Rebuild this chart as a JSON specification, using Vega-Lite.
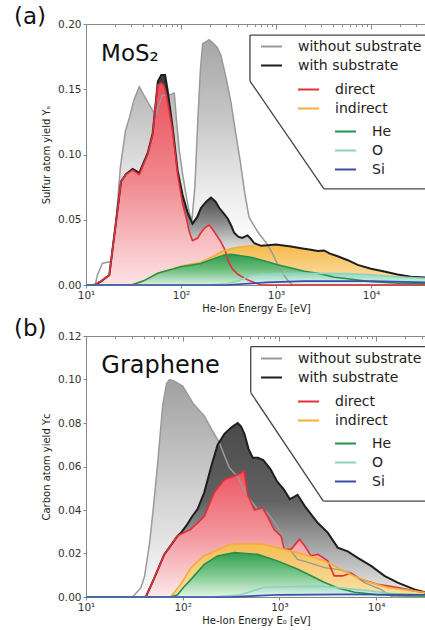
{
"$schema":"https://vega.github.io/schema/vega-lite/v6.json",
"padding":{"left":13,"top":5,"right":0,"bottom":0},
"background":"white",
"config":{
 "view":{"stroke":"#888","strokeWidth":1},
 "font":"DejaVu Sans",
 "axis":{"labelFont":"DejaVu Sans","titleFont":"DejaVu Sans","labelFontSize":10.5,"titleFontSize":10,"titleFontWeight":"normal","labelColor":"#333","titleColor":"#222","domainColor":"#888","tickColor":"#888","grid":false,"labelFlush":false},
 "legend":{"orient":"none","title":null,"labelFont":"DejaVu Sans","labelFontSize":14,"labelColor":"#222","symbolType":"stroke","symbolSize":441,"symbolStrokeWidth":2,"labelOffset":15,"rowPadding":0,"padding":0},
 "title":{"font":"DejaVu Sans","fontWeight":"normal"}
},
"datasets":{
"a":[
{"s":"without substrate","E":10,"y":0},{"s":"without substrate","E":12.5,"y":0},{"s":"without substrate","E":13.2,"y":0.0077},{"s":"without substrate","E":14.9,"y":0.0167},{"s":"without substrate","E":18.3,"y":0.018},{"s":"without substrate","E":20.5,"y":0.045},{"s":"without substrate","E":23,"y":0.09},{"s":"without substrate","E":26,"y":0.118},{"s":"without substrate","E":28.6,"y":0.128},{"s":"without substrate","E":32,"y":0.142},{"s":"without substrate","E":36.4,"y":0.152},{"s":"without substrate","E":41,"y":0.145},{"s":"without substrate","E":46.4,"y":0.138},{"s":"without substrate","E":51,"y":0.133},{"s":"without substrate","E":54.6,"y":0.13},{"s":"without substrate","E":58,"y":0.137},{"s":"without substrate","E":63,"y":0.145},{"s":"without substrate","E":70,"y":0.146},{"s":"without substrate","E":78,"y":0.146},{"s":"without substrate","E":85,"y":0.147},{"s":"without substrate","E":90,"y":0.125},{"s":"without substrate","E":96,"y":0.103},{"s":"without substrate","E":104,"y":0.085},{"s":"without substrate","E":113,"y":0.069},{"s":"without substrate","E":122,"y":0.056},{"s":"without substrate","E":130,"y":0.049},{"s":"without substrate","E":140,"y":0.075},{"s":"without substrate","E":150,"y":0.125},{"s":"without substrate","E":160,"y":0.165},{"s":"without substrate","E":169,"y":0.185},{"s":"without substrate","E":198,"y":0.188},{"s":"without substrate","E":220,"y":0.185},{"s":"without substrate","E":241,"y":0.182},{"s":"without substrate","E":263,"y":0.176},{"s":"without substrate","E":300,"y":0.158},{"s":"without substrate","E":336,"y":0.14},{"s":"without substrate","E":370,"y":0.12},{"s":"without substrate","E":420,"y":0.095},{"s":"without substrate","E":470,"y":0.07},{"s":"without substrate","E":520,"y":0.052},{"s":"without substrate","E":580,"y":0.046},{"s":"without substrate","E":640,"y":0.041},{"s":"without substrate","E":720,"y":0.036},{"s":"without substrate","E":815,"y":0.031},{"s":"without substrate","E":920,"y":0.024},{"s":"without substrate","E":1040,"y":0.016},{"s":"without substrate","E":1200,"y":0.008},{"s":"without substrate","E":1350,"y":0.003},{"s":"without substrate","E":1500,"y":0},{"s":"without substrate","E":37930,"y":0},
{"s":"with substrate","E":10,"y":0},{"s":"with substrate","E":12.5,"y":0},{"s":"with substrate","E":14.5,"y":0.003},{"s":"with substrate","E":17.6,"y":0.0077},{"s":"with substrate","E":20,"y":0.04},{"s":"with substrate","E":23.4,"y":0.0795},{"s":"with substrate","E":26.3,"y":0.085},{"s":"with substrate","E":31,"y":0.089},{"s":"with substrate","E":36.4,"y":0.086},{"s":"with substrate","E":44.6,"y":0.101},{"s":"with substrate","E":50.3,"y":0.116},{"s":"with substrate","E":54.6,"y":0.142},{"s":"with substrate","E":57,"y":0.156},{"s":"with substrate","E":62,"y":0.161},{"s":"with substrate","E":68,"y":0.161},{"s":"with substrate","E":72,"y":0.15},{"s":"with substrate","E":81.6,"y":0.121},{"s":"with substrate","E":92,"y":0.088},{"s":"with substrate","E":104,"y":0.069},{"s":"with substrate","E":118,"y":0.055},{"s":"with substrate","E":132,"y":0.047},{"s":"with substrate","E":148,"y":0.052},{"s":"with substrate","E":162,"y":0.059},{"s":"with substrate","E":185,"y":0.064},{"s":"with substrate","E":207,"y":0.067},{"s":"with substrate","E":230,"y":0.064},{"s":"with substrate","E":253,"y":0.059},{"s":"with substrate","E":280,"y":0.055},{"s":"with substrate","E":310,"y":0.051},{"s":"with substrate","E":340,"y":0.045},{"s":"with substrate","E":363,"y":0.04},{"s":"with substrate","E":400,"y":0.037},{"s":"with substrate","E":440,"y":0.036},{"s":"with substrate","E":502,"y":0.038},{"s":"with substrate","E":550,"y":0.035},{"s":"with substrate","E":590,"y":0.032},{"s":"with substrate","E":700,"y":0.03},{"s":"with substrate","E":820,"y":0.0305},{"s":"with substrate","E":1000,"y":0.031},{"s":"with substrate","E":1440,"y":0.0295},{"s":"with substrate","E":1900,"y":0.028},{"s":"with substrate","E":2330,"y":0.027},{"s":"with substrate","E":2750,"y":0.026},{"s":"with substrate","E":3200,"y":0.0265},{"s":"with substrate","E":3700,"y":0.024},{"s":"with substrate","E":4460,"y":0.022},{"s":"with substrate","E":5700,"y":0.019},{"s":"with substrate","E":7240,"y":0.0154},{"s":"with substrate","E":10000,"y":0.0125},{"s":"with substrate","E":13800,"y":0.0103},{"s":"with substrate","E":19000,"y":0.008},{"s":"with substrate","E":26300,"y":0.0064},{"s":"with substrate","E":37930,"y":0.0058},
{"s":"direct","E":10,"y":0},{"s":"direct","E":12,"y":0},{"s":"direct","E":14.5,"y":0.003},{"s":"direct","E":17.6,"y":0.0077},{"s":"direct","E":20,"y":0.04},{"s":"direct","E":23.4,"y":0.0795},{"s":"direct","E":26.3,"y":0.0846},{"s":"direct","E":31,"y":0.088},{"s":"direct","E":36.4,"y":0.0846},{"s":"direct","E":44.6,"y":0.1},{"s":"direct","E":50.3,"y":0.115},{"s":"direct","E":54.6,"y":0.141},{"s":"direct","E":56.7,"y":0.153},{"s":"direct","E":62,"y":0.155},{"s":"direct","E":66,"y":0.153},{"s":"direct","E":70,"y":0.146},{"s":"direct","E":81.6,"y":0.118},{"s":"direct","E":92,"y":0.085},{"s":"direct","E":104,"y":0.062},{"s":"direct","E":113,"y":0.052},{"s":"direct","E":122,"y":0.041},{"s":"direct","E":132,"y":0.034},{"s":"direct","E":150,"y":0.036},{"s":"direct","E":162,"y":0.04},{"s":"direct","E":180,"y":0.044},{"s":"direct","E":198,"y":0.046},{"s":"direct","E":223,"y":0.041},{"s":"direct","E":263,"y":0.033},{"s":"direct","E":290,"y":0.027},{"s":"direct","E":320,"y":0.017},{"s":"direct","E":350,"y":0.012},{"s":"direct","E":400,"y":0.008},{"s":"direct","E":446,"y":0.006},{"s":"direct","E":500,"y":0.004},{"s":"direct","E":590,"y":0.002},{"s":"direct","E":700,"y":0},{"s":"direct","E":37930,"y":0},
{"s":"indirect","E":10,"y":0},{"s":"indirect","E":30,"y":0},{"s":"indirect","E":40,"y":0.003},{"s":"indirect","E":57,"y":0.009},{"s":"indirect","E":80,"y":0.012},{"s":"indirect","E":100,"y":0.0145},{"s":"indirect","E":162,"y":0.0175},{"s":"indirect","E":220,"y":0.022},{"s":"indirect","E":264,"y":0.0255},{"s":"indirect","E":340,"y":0.028},{"s":"indirect","E":426,"y":0.0293},{"s":"indirect","E":590,"y":0.03},{"s":"indirect","E":700,"y":0.03},{"s":"indirect","E":820,"y":0.0305},{"s":"indirect","E":1000,"y":0.031},{"s":"indirect","E":1440,"y":0.0295},{"s":"indirect","E":1900,"y":0.028},{"s":"indirect","E":2330,"y":0.027},{"s":"indirect","E":2750,"y":0.026},{"s":"indirect","E":3200,"y":0.0265},{"s":"indirect","E":3700,"y":0.024},{"s":"indirect","E":4460,"y":0.022},{"s":"indirect","E":5700,"y":0.019},{"s":"indirect","E":7240,"y":0.0154},{"s":"indirect","E":10000,"y":0.0125},{"s":"indirect","E":13800,"y":0.0103},{"s":"indirect","E":19000,"y":0.008},{"s":"indirect","E":26300,"y":0.0064},{"s":"indirect","E":37930,"y":0.0058},
{"s":"He","E":10,"y":0},{"s":"He","E":30,"y":0},{"s":"He","E":40,"y":0.003},{"s":"He","E":57,"y":0.009},{"s":"He","E":80,"y":0.012},{"s":"He","E":100,"y":0.014},{"s":"He","E":162,"y":0.0165},{"s":"He","E":200,"y":0.019},{"s":"He","E":240,"y":0.021},{"s":"He","E":286,"y":0.023},{"s":"He","E":340,"y":0.0235},{"s":"He","E":426,"y":0.0224},{"s":"He","E":546,"y":0.0212},{"s":"He","E":813,"y":0.0178},{"s":"He","E":1040,"y":0.0155},{"s":"He","E":1560,"y":0.0125},{"s":"He","E":1990,"y":0.0105},{"s":"He","E":2960,"y":0.0085},{"s":"He","E":4110,"y":0.006},{"s":"He","E":5690,"y":0.0048},{"s":"He","E":9220,"y":0.0028},{"s":"He","E":20000,"y":0.0013},{"s":"He","E":37930,"y":0.001},
{"s":"O","E":10,"y":0},{"s":"O","E":200,"y":0},{"s":"O","E":300,"y":0.001},{"s":"O","E":400,"y":0.003},{"s":"O","E":550,"y":0.0075},{"s":"O","E":800,"y":0.0085},{"s":"O","E":1800,"y":0.0089},{"s":"O","E":5700,"y":0.0088},{"s":"O","E":10000,"y":0.0078},{"s":"O","E":20000,"y":0.006},{"s":"O","E":37930,"y":0.005},
{"s":"Si","E":10,"y":0},{"s":"Si","E":300,"y":0},{"s":"Si","E":800,"y":0.002},{"s":"Si","E":2000,"y":0.003},{"s":"Si","E":10000,"y":0.003},{"s":"Si","E":37930,"y":0.002}
],
"b":[
{"s":"without substrate","E":10,"y":0},{"s":"without substrate","E":30,"y":0},{"s":"without substrate","E":31.8,"y":0.001},{"s":"without substrate","E":37,"y":0.0043},{"s":"without substrate","E":40.4,"y":0.0097},{"s":"without substrate","E":45.5,"y":0.025},{"s":"without substrate","E":50,"y":0.042},{"s":"without substrate","E":55,"y":0.061},{"s":"without substrate","E":62,"y":0.088},{"s":"without substrate","E":68,"y":0.098},{"s":"without substrate","E":73,"y":0.1},{"s":"without substrate","E":80,"y":0.0995},{"s":"without substrate","E":100,"y":0.097},{"s":"without substrate","E":128,"y":0.089},{"s":"without substrate","E":167,"y":0.0832},{"s":"without substrate","E":200,"y":0.077},{"s":"without substrate","E":239,"y":0.071},{"s":"without substrate","E":270,"y":0.065},{"s":"without substrate","E":303,"y":0.0595},{"s":"without substrate","E":340,"y":0.057},{"s":"without substrate","E":370,"y":0.0556},{"s":"without substrate","E":420,"y":0.05},{"s":"without substrate","E":469,"y":0.0464},{"s":"without substrate","E":594,"y":0.0403},{"s":"without substrate","E":750,"y":0.0388},{"s":"without substrate","E":900,"y":0.034},{"s":"without substrate","E":1040,"y":0.0296},{"s":"without substrate","E":1210,"y":0.0234},{"s":"without substrate","E":1540,"y":0.0173},{"s":"without substrate","E":1800,"y":0.0165},{"s":"without substrate","E":2300,"y":0.015},{"s":"without substrate","E":2910,"y":0.0135},{"s":"without substrate","E":3990,"y":0.0127},{"s":"without substrate","E":5500,"y":0.0112},{"s":"without substrate","E":7550,"y":0.0066},{"s":"without substrate","E":11200,"y":0.0035},{"s":"without substrate","E":13500,"y":0.001},{"s":"without substrate","E":15000,"y":0},{"s":"without substrate","E":32800,"y":0},
{"s":"with substrate","E":10,"y":0},{"s":"with substrate","E":41.5,"y":0},{"s":"with substrate","E":50,"y":0.008},{"s":"with substrate","E":64.5,"y":0.0196},{"s":"with substrate","E":76,"y":0.024},{"s":"with substrate","E":88,"y":0.028},{"s":"with substrate","E":96,"y":0.0295},{"s":"with substrate","E":110,"y":0.033},{"s":"with substrate","E":125,"y":0.037},{"s":"with substrate","E":142,"y":0.0403},{"s":"with substrate","E":167,"y":0.048},{"s":"with substrate","E":200,"y":0.061},{"s":"with substrate","E":230,"y":0.07},{"s":"with substrate","E":270,"y":0.075},{"s":"with substrate","E":320,"y":0.078},{"s":"with substrate","E":370,"y":0.08},{"s":"with substrate","E":400,"y":0.0785},{"s":"with substrate","E":435,"y":0.075},{"s":"with substrate","E":480,"y":0.068},{"s":"with substrate","E":530,"y":0.064},{"s":"with substrate","E":600,"y":0.064},{"s":"with substrate","E":680,"y":0.063},{"s":"with substrate","E":810,"y":0.0587},{"s":"with substrate","E":950,"y":0.053},{"s":"with substrate","E":1110,"y":0.0495},{"s":"with substrate","E":1280,"y":0.045},{"s":"with substrate","E":1420,"y":0.046},{"s":"with substrate","E":1540,"y":0.047},{"s":"with substrate","E":1830,"y":0.0418},{"s":"with substrate","E":2500,"y":0.034},{"s":"with substrate","E":3160,"y":0.0296},{"s":"with substrate","E":4010,"y":0.0227},{"s":"with substrate","E":5090,"y":0.021},{"s":"with substrate","E":6460,"y":0.018},{"s":"with substrate","E":8870,"y":0.0143},{"s":"with substrate","E":12200,"y":0.0097},{"s":"with substrate","E":16700,"y":0.0066},{"s":"with substrate","E":24900,"y":0.0035},{"s":"with substrate","E":32800,"y":0.002},
{"s":"direct","E":10,"y":0},{"s":"direct","E":41.5,"y":0},{"s":"direct","E":50,"y":0.008},{"s":"direct","E":64.5,"y":0.0196},{"s":"direct","E":76,"y":0.024},{"s":"direct","E":88,"y":0.028},{"s":"direct","E":96,"y":0.029},{"s":"direct","E":120,"y":0.031},{"s":"direct","E":142,"y":0.034},{"s":"direct","E":167,"y":0.037},{"s":"direct","E":190,"y":0.043},{"s":"direct","E":212,"y":0.048},{"s":"direct","E":270,"y":0.054},{"s":"direct","E":340,"y":0.0555},{"s":"direct","E":400,"y":0.057},{"s":"direct","E":430,"y":0.058},{"s":"direct","E":470,"y":0.047},{"s":"direct","E":550,"y":0.04},{"s":"direct","E":670,"y":0.041},{"s":"direct","E":755,"y":0.037},{"s":"direct","E":880,"y":0.031},{"s":"direct","E":1040,"y":0.028},{"s":"direct","E":1120,"y":0.022},{"s":"direct","E":1320,"y":0.0219},{"s":"direct","E":1610,"y":0.0265},{"s":"direct","E":1830,"y":0.0235},{"s":"direct","E":2110,"y":0.019},{"s":"direct","E":2500,"y":0.0196},{"s":"direct","E":3160,"y":0.0166},{"s":"direct","E":3690,"y":0.0097},{"s":"direct","E":4500,"y":0.0097},{"s":"direct","E":5500,"y":0.011},{"s":"direct","E":7000,"y":0.008},{"s":"direct","E":10400,"y":0.0058},{"s":"direct","E":16700,"y":0.0043},{"s":"direct","E":24900,"y":0.0028},{"s":"direct","E":32800,"y":0.002},
{"s":"indirect","E":10,"y":0},{"s":"indirect","E":75,"y":0},{"s":"indirect","E":96,"y":0.006},{"s":"indirect","E":122,"y":0.0135},{"s":"indirect","E":167,"y":0.019},{"s":"indirect","E":229,"y":0.0215},{"s":"indirect","E":316,"y":0.0242},{"s":"indirect","E":500,"y":0.0245},{"s":"indirect","E":697,"y":0.0242},{"s":"indirect","E":1120,"y":0.0219},{"s":"indirect","E":1500,"y":0.0205},{"s":"indirect","E":2000,"y":0.019},{"s":"indirect","E":2910,"y":0.0165},{"s":"indirect","E":3990,"y":0.0135},{"s":"indirect","E":5900,"y":0.0097},{"s":"indirect","E":8800,"y":0.0066},{"s":"indirect","E":13500,"y":0.0043},{"s":"indirect","E":24000,"y":0.0028},{"s":"indirect","E":32800,"y":0.002},
{"s":"He","E":10,"y":0},{"s":"He","E":75,"y":0},{"s":"He","E":88.5,"y":0.001},{"s":"He","E":100,"y":0.004},{"s":"He","E":122,"y":0.0081},{"s":"He","E":167,"y":0.015},{"s":"He","E":229,"y":0.0189},{"s":"He","E":342,"y":0.0204},{"s":"He","E":596,"y":0.0196},{"s":"He","E":955,"y":0.0166},{"s":"He","E":1550,"y":0.0128},{"s":"He","E":2125,"y":0.0098},{"s":"He","E":2900,"y":0.0068},{"s":"He","E":4000,"y":0.0042},{"s":"He","E":6000,"y":0.0022},{"s":"He","E":10000,"y":0.0011},{"s":"He","E":20000,"y":0.0006},{"s":"He","E":32800,"y":0.0005},
{"s":"O","E":10,"y":0},{"s":"O","E":200,"y":0},{"s":"O","E":400,"y":0.001},{"s":"O","E":697,"y":0.0045},{"s":"O","E":1500,"y":0.0048},{"s":"O","E":2125,"y":0.005},{"s":"O","E":3000,"y":0.0048},{"s":"O","E":4000,"y":0.0043},{"s":"O","E":8000,"y":0.003},{"s":"O","E":15000,"y":0.0015},{"s":"O","E":32800,"y":0.001},
{"s":"Si","E":10,"y":0},{"s":"Si","E":300,"y":0},{"s":"Si","E":1000,"y":0.001},{"s":"Si","E":5000,"y":0.0012},{"s":"Si","E":32800,"y":0.001}
]
},
"vconcat":[
{
 "width":340,"height":261,
 "title":{"text":"(a)","anchor":"start","frame":"group","dx":-72,"offset":-10,"fontSize":23,"color":"#111"},
 "resolve":{"axis":{"x":"independent"},"scale":{"color":"independent"},"legend":{"color":"independent"}},
 "layer":[
  {
   "data":{"name":"a"},
   "resolve":{"scale":{"color":"independent"},"legend":{"color":"independent"}},
   "layer":[
    {"transform":[{"filter":"datum.s=='without substrate'"}],"mark":{"type":"area","color":{"gradient":"linear","x1":0,"y1":0,"x2":0,"y2":1,"stops":[{"offset":0,"color":"#a6a6a6"},{"offset":0.3,"color":"#c4c4c4"},{"offset":0.6,"color":"#eaeaea"},{"offset":0.8,"color":"#fbfbfb"},{"offset":1,"color":"#ffffff"}]}},
     "encoding":{
      "x":{"field":"E","type":"quantitative","scale":{"type":"log","domain":[10,37930],"nice":false},"axis":{"values":[10,100,1000,10000],"labelExpr":"datum.value==10?'10¹':datum.value==100?'10²':datum.value==1000?'10³':'10⁴'","tickSize":3,"labelPadding":2,"title":"He-Ion Energy E₀ [eV]","titlePadding":3}},
      "y":{"field":"y","type":"quantitative","scale":{"domain":[0,0.2],"nice":false},"axis":{"values":[0,0.05,0.1,0.15,0.2],"format":".2f","title":"Sulfur atom yield Yₛ","tickSize":3,"labelPadding":2,"titlePadding":6}}}},
    {"transform":[{"filter":"datum.s=='with substrate'"}],"mark":{"type":"area","color":{"gradient":"linear","x1":0,"y1":0,"x2":0,"y2":1,"stops":[{"offset":0,"color":"#3c3c3c"},{"offset":0.58,"color":"#4a4a4a"},{"offset":0.7,"color":"#8a8a8a"},{"offset":0.8,"color":"#d0d0d0"},{"offset":0.9,"color":"#f8f8f8"},{"offset":1,"color":"#ffffff"}]}},
     "encoding":{"x":{"field":"E","type":"quantitative"},"y":{"field":"y","type":"quantitative"}}},
    {"transform":[{"filter":"datum.s=='direct'"}],"mark":{"type":"area","color":{"gradient":"linear","x1":0,"y1":0,"x2":0,"y2":1,"stops":[{"offset":0,"color":"#ea4f59"},{"offset":0.5,"color":"#f18a90"},{"offset":1,"color":"#fde4e6"}]}},
     "encoding":{"x":{"field":"E","type":"quantitative"},"y":{"field":"y","type":"quantitative"}}},
    {"transform":[{"filter":"datum.s=='indirect'"}],"mark":{"type":"area","color":{"gradient":"linear","x1":0,"y1":0,"x2":0,"y2":1,"stops":[{"offset":0,"color":"#f6b94a"},{"offset":1,"color":"#fbe3b0"}]}},
     "encoding":{"x":{"field":"E","type":"quantitative"},"y":{"field":"y","type":"quantitative"}}},
    {"transform":[{"filter":"datum.s=='He'"}],"mark":{"type":"area","color":{"gradient":"linear","x1":0,"y1":0,"x2":0,"y2":1,"stops":[{"offset":0,"color":"#2f9a4e"},{"offset":0.5,"color":"#6cbf7e"},{"offset":1,"color":"#d9f0de"}]}},
     "encoding":{"x":{"field":"E","type":"quantitative"},"y":{"field":"y","type":"quantitative"}}},
    {"transform":[{"filter":"datum.s=='O'"}],"mark":{"type":"area","color":{"gradient":"linear","x1":0,"y1":0,"x2":0,"y2":1,"stops":[{"offset":0,"color":"#8fd5bd"},{"offset":1,"color":"#e6f6ef"}]}},
     "encoding":{"x":{"field":"E","type":"quantitative"},"y":{"field":"y","type":"quantitative"}}},
    {"transform":[{"filter":"datum.s=='without substrate' || datum.s=='with substrate'"}],"mark":{"type":"line"},
     "encoding":{"x":{"field":"E","type":"quantitative"},"y":{"field":"y","type":"quantitative"},
      "color":{"field":"s","type":"nominal","scale":{"domain":["without substrate","with substrate"],"range":["#9a9a9a","#1e1e1e"]},"legend":{"legendX":174,"legendY":11}},
      "strokeWidth":{"condition":{"test":"datum.s=='with substrate'","value":2},"value":1.5}}},
    {"transform":[{"filter":"datum.s=='direct' || (datum.s=='indirect' && datum.E<=600)"}],"mark":{"type":"line","strokeWidth":1.6},
     "encoding":{"x":{"field":"E","type":"quantitative"},"y":{"field":"y","type":"quantitative"},
      "color":{"field":"s","type":"nominal","scale":{"domain":["direct","indirect"],"range":["#e0303c","#f2ae35"]},"legend":{"legendX":211,"legendY":54}}}},
    {"transform":[{"filter":"datum.s=='He' || datum.s=='O' || datum.s=='Si'"}],"mark":{"type":"line","strokeWidth":1.6},
     "encoding":{"x":{"field":"E","type":"quantitative"},"y":{"field":"y","type":"quantitative"},
      "color":{"field":"s","type":"nominal","scale":{"domain":["He","O","Si"],"range":["#27904a","#8ed3ba","#3a4ea8"]},"legend":{"legendX":248,"legendY":96}}}},
    {"data":{"values":[{}]},"mark":{"type":"text","align":"left","baseline":"alphabetic","fontSize":23,"color":"#111","text":"MoS₂"},
     "encoding":{"x":{"datum":14.4,"type":"quantitative"},"y":{"datum":0.172,"type":"quantitative"}}},
    {"data":{"values":[{}]},"mark":{"type":"rule","color":"#444","strokeWidth":1.3},"encoding":{"x":{"datum":532,"type":"quantitative"},"x2":{"datum":37930},"y":{"datum":0.1915,"type":"quantitative"}}},
    {"data":{"values":[{}]},"mark":{"type":"rule","color":"#444","strokeWidth":1.3},"encoding":{"x":{"datum":532,"type":"quantitative"},"y":{"datum":0.1915,"type":"quantitative"},"y2":{"datum":0.1563}}},
    {"data":{"values":[{}]},"mark":{"type":"rule","color":"#444","strokeWidth":1.3},"encoding":{"x":{"datum":532,"type":"quantitative"},"x2":{"datum":3200},"y":{"datum":0.1563,"type":"quantitative"},"y2":{"datum":0.0737}}},
    {"data":{"values":[{}]},"mark":{"type":"rule","color":"#444","strokeWidth":1.3},"encoding":{"x":{"datum":3200,"type":"quantitative"},"x2":{"datum":37930},"y":{"datum":0.0737,"type":"quantitative"}}}
   ]
  },
  {"data":{"values":[{}]},"mark":{"type":"point","opacity":0},
   "encoding":{"x":{"datum":100,"type":"quantitative","scale":{"type":"log","domain":[10,37930],"nice":false},"axis":{"orient":"top","values":[10,20,30,40,50,60,70,80,90,100,200,300,400,500,600,700,800,900,1000,2000,3000,4000,5000,6000,7000,8000,9000,10000,20000,30000],"labels":false,"domain":false,"title":null,"tickSize":{"condition":{"test":"indexof([10,100,1000,10000],datum.value)>=0","value":-5},"value":-2.5}}}}}
 ]
},
{
 "width":340,"height":261,
 "title":{"text":"(b)","anchor":"start","frame":"group","dx":-72,"offset":-10,"fontSize":23,"color":"#111"},
 "resolve":{"axis":{"x":"independent"},"scale":{"color":"independent"},"legend":{"color":"independent"}},
 "layer":[
  {
   "data":{"name":"b"},
   "resolve":{"scale":{"color":"independent"},"legend":{"color":"independent"}},
   "layer":[
    {"transform":[{"filter":"datum.s=='without substrate'"}],"mark":{"type":"area","color":{"gradient":"linear","x1":0,"y1":0,"x2":0,"y2":1,"stops":[{"offset":0,"color":"#a0a0a0"},{"offset":0.5,"color":"#cfcfcf"},{"offset":1,"color":"#fbfbfb"}]}},
     "encoding":{
      "x":{"field":"E","type":"quantitative","scale":{"type":"log","domain":[10,32800],"nice":false},"axis":{"values":[10,100,1000,10000],"labelExpr":"datum.value==10?'10¹':datum.value==100?'10²':datum.value==1000?'10³':'10⁴'","tickSize":3,"labelPadding":2,"title":"He-Ion Energy E₀ [eV]","titlePadding":3}},
      "y":{"field":"y","type":"quantitative","scale":{"domain":[0,0.12],"nice":false},"axis":{"values":[0,0.02,0.04,0.06,0.08,0.1,0.12],"format":".2f","title":"Carbon atom yield Yᴄ","tickSize":3,"labelPadding":2,"titlePadding":6}}}},
    {"transform":[{"filter":"datum.s=='with substrate'"}],"mark":{"type":"area","color":{"gradient":"linear","x1":0,"y1":0,"x2":0,"y2":1,"stops":[{"offset":0,"color":"#4a4a4a"},{"offset":0.45,"color":"#626262"},{"offset":0.75,"color":"#b0b0b0"},{"offset":1,"color":"#eeeeee"}]}},
     "encoding":{"x":{"field":"E","type":"quantitative"},"y":{"field":"y","type":"quantitative"}}},
    {"transform":[{"filter":"datum.s=='direct'"}],"mark":{"type":"area","color":{"gradient":"linear","x1":0,"y1":0,"x2":0,"y2":1,"stops":[{"offset":0,"color":"#ec5660"},{"offset":0.5,"color":"#f3959b"},{"offset":1,"color":"#fde9eb"}]}},
     "encoding":{"x":{"field":"E","type":"quantitative"},"y":{"field":"y","type":"quantitative"}}},
    {"transform":[{"filter":"datum.s=='indirect'"}],"mark":{"type":"area","color":{"gradient":"linear","x1":0,"y1":0,"x2":0,"y2":1,"stops":[{"offset":0,"color":"#f6bd52"},{"offset":1,"color":"#fbe2aa"}]}},
     "encoding":{"x":{"field":"E","type":"quantitative"},"y":{"field":"y","type":"quantitative"}}},
    {"transform":[{"filter":"datum.s=='He'"}],"mark":{"type":"area","color":{"gradient":"linear","x1":0,"y1":0,"x2":0,"y2":1,"stops":[{"offset":0,"color":"#33a052"},{"offset":0.5,"color":"#7ec88e"},{"offset":1,"color":"#e3f4e6"}]}},
     "encoding":{"x":{"field":"E","type":"quantitative"},"y":{"field":"y","type":"quantitative"}}},
    {"transform":[{"filter":"datum.s=='O'"}],"mark":{"type":"area","color":{"gradient":"linear","x1":0,"y1":0,"x2":0,"y2":1,"stops":[{"offset":0,"color":"#a0dcc6"},{"offset":1,"color":"#e8f6f0"}]}},
     "encoding":{"x":{"field":"E","type":"quantitative"},"y":{"field":"y","type":"quantitative"}}},
    {"transform":[{"filter":"datum.s=='without substrate' || datum.s=='with substrate'"}],"mark":{"type":"line"},
     "encoding":{"x":{"field":"E","type":"quantitative"},"y":{"field":"y","type":"quantitative"},
      "color":{"field":"s","type":"nominal","scale":{"domain":["without substrate","with substrate"],"range":["#9a9a9a","#1e1e1e"]},"legend":{"legendX":174,"legendY":11}},
      "strokeWidth":{"condition":{"test":"datum.s=='with substrate'","value":2},"value":1.5}}},
    {"transform":[{"filter":"datum.s=='direct' || datum.s=='indirect'"}],"mark":{"type":"line","strokeWidth":1.6},
     "encoding":{"x":{"field":"E","type":"quantitative"},"y":{"field":"y","type":"quantitative"},
      "color":{"field":"s","type":"nominal","scale":{"domain":["direct","indirect"],"range":["#e0303c","#f2ae35"]},"legend":{"legendX":211,"legendY":54}}}},
    {"transform":[{"filter":"datum.s=='He' || datum.s=='O' || datum.s=='Si'"}],"mark":{"type":"line","strokeWidth":1.6},
     "encoding":{"x":{"field":"E","type":"quantitative"},"y":{"field":"y","type":"quantitative"},
      "color":{"field":"s","type":"nominal","scale":{"domain":["He","O","Si"],"range":["#27904a","#8ed3ba","#3a4ea8"]},"legend":{"legendX":248,"legendY":96}}}},
    {"data":{"values":[{}]},"mark":{"type":"text","align":"left","baseline":"alphabetic","fontSize":24,"color":"#111","text":"Graphene"},
     "encoding":{"x":{"datum":14.4,"type":"quantitative"},"y":{"datum":0.1032,"type":"quantitative"}}},
    {"data":{"values":[{}]},"mark":{"type":"rule","color":"#444","strokeWidth":1.3},"encoding":{"x":{"datum":505,"type":"quantitative"},"x2":{"datum":32800},"y":{"datum":0.1151,"type":"quantitative"}}},
    {"data":{"values":[{}]},"mark":{"type":"rule","color":"#444","strokeWidth":1.3},"encoding":{"x":{"datum":505,"type":"quantitative"},"y":{"datum":0.1151,"type":"quantitative"},"y2":{"datum":0.094}}},
    {"data":{"values":[{}]},"mark":{"type":"rule","color":"#444","strokeWidth":1.3},"encoding":{"x":{"datum":505,"type":"quantitative"},"x2":{"datum":2845},"y":{"datum":0.094,"type":"quantitative"},"y2":{"datum":0.0441}}},
    {"data":{"values":[{}]},"mark":{"type":"rule","color":"#444","strokeWidth":1.3},"encoding":{"x":{"datum":2845,"type":"quantitative"},"x2":{"datum":32800},"y":{"datum":0.0441,"type":"quantitative"}}}
   ]
  },
  {"data":{"values":[{}]},"mark":{"type":"point","opacity":0},
   "encoding":{"x":{"datum":100,"type":"quantitative","scale":{"type":"log","domain":[10,32800],"nice":false},"axis":{"orient":"top","values":[10,20,30,40,50,60,70,80,90,100,200,300,400,500,600,700,800,900,1000,2000,3000,4000,5000,6000,7000,8000,9000,10000,20000,30000],"labels":false,"domain":false,"title":null,"tickSize":{"condition":{"test":"indexof([10,100,1000,10000],datum.value)>=0","value":-5},"value":-2.5}}}}}
 ]
}
],
"spacing":3,
"resolve":{"scale":{"color":"independent"},"legend":{"color":"independent"}}
}
